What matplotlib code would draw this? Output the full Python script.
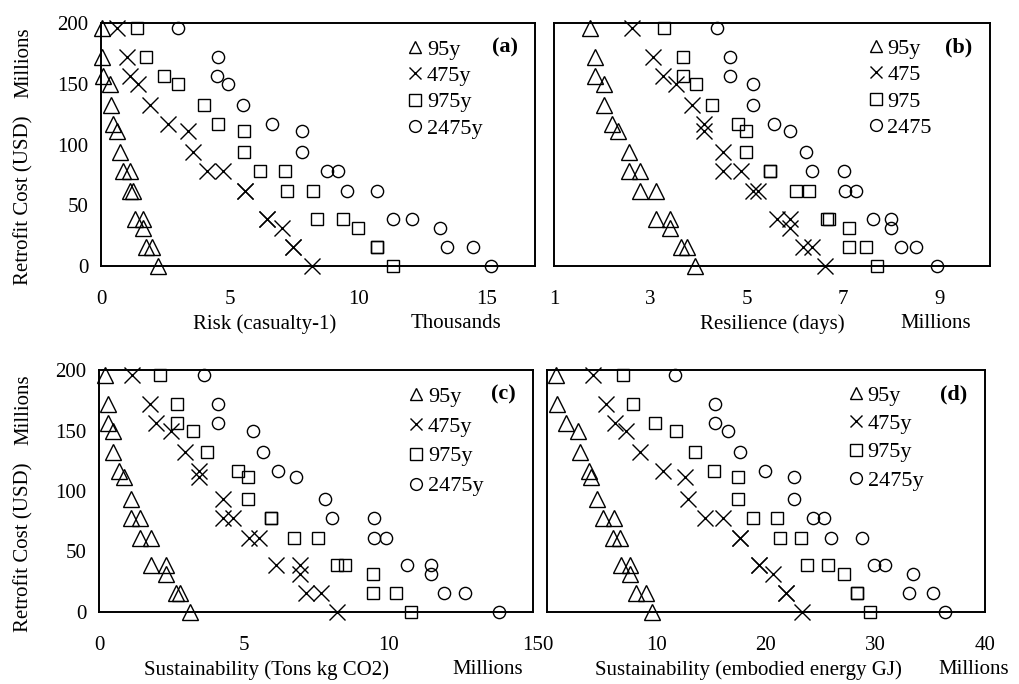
import matplotlib.pyplot as plt
from matplotlib.lines import Line2D

# ================= data =================
# retrofit cost levels (millions USD), shared by every series
COST = [195.5, 172, 156.5, 150, 132.5, 116.5, 111.5, 93.5, 78, 78,
        61.5, 61.5, 38.5, 38.5, 31, 16, 16, 0]

# (a) risk, thousands
RISK_95 = [0.03, 0.03, 0.09, 0.35, 0.38, 0.48, 0.61, 0.74, 0.87, 1.13, 1.13, 1.26, 1.32, 1.62, 1.62, 1.75, 1.97, 2.23]
RISK_475 = [0.61, 1.00, 1.13, 1.45, 1.91, 2.62, 3.40, 3.59, 4.11, 4.75, 5.60, 5.60, 6.44, 6.44, 7.03, 7.48, 7.48, 8.20]
RISK_975 = [1.39, 1.75, 2.45, 3.01, 4.01, 4.56, 5.56, 5.56, 6.18, 7.15, 7.24, 8.23, 8.39, 9.42, 10.01, 10.72, 10.72, 11.37]
RISK_2475 = [3.01, 4.54, 4.50, 4.95, 5.51, 6.64, 7.81, 7.81, 8.78, 9.23, 9.56, 10.75, 11.37, 12.08, 13.19, 13.45, 14.48, 15.16]

# (b) resilience, millions
RES_95 = [1.75, 1.85, 1.85, 2.04, 2.04, 2.21, 2.33, 2.56, 2.56, 2.78, 2.78, 3.12, 3.12, 3.41, 3.41, 3.63, 3.77, 3.93]
RES_475 = [2.61, 3.06, 3.27, 3.53, 3.86, 4.11, 4.11, 4.50, 4.50, 4.88, 5.13, 5.23, 5.62, 5.90, 5.90, 6.17, 6.35, 6.62]
RES_975 = [3.28, 3.67, 3.67, 3.95, 4.28, 4.82, 4.98, 4.98, 5.48, 5.48, 6.02, 6.30, 6.66, 6.71, 7.13, 7.13, 7.47, 7.70]
RES_2475 = [4.38, 4.65, 4.65, 5.13, 5.13, 5.56, 5.90, 6.23, 6.35, 7.02, 7.04, 7.27, 7.62, 7.99, 7.99, 8.21, 8.52, 8.94]

# (c) sustainability CO2, millions
CO2_95 = [0.20, 0.31, 0.31, 0.48, 0.48, 0.69, 0.86, 1.12, 1.12, 1.41, 1.41, 1.81, 1.81, 2.31, 2.31, 2.65, 2.81, 3.14]
CO2_475 = [1.14, 1.75, 1.98, 2.50, 2.96, 3.46, 3.46, 4.27, 4.27, 4.63, 5.18, 5.53, 6.13, 6.94, 6.94, 7.17, 7.69, 8.21]
CO2_975 = [2.10, 2.70, 2.70, 3.25, 3.73, 4.80, 5.16, 5.16, 5.94, 5.94, 6.73, 7.57, 8.21, 8.49, 9.47, 9.47, 10.26, 10.80]
CO2_2475 = [3.63, 4.11, 4.11, 5.32, 5.67, 6.19, 6.82, 7.80, 8.07, 9.50, 9.50, 9.93, 10.63, 11.46, 11.46, 11.91, 12.66, 13.83]

# (d) sustainability embodied energy, millions
EE_95 = [0.80, 0.95, 1.71, 2.83, 2.99, 3.84, 3.99, 4.60, 5.12, 6.12, 6.03, 6.70, 6.78, 7.62, 7.62, 8.17, 9.02, 9.63]
EE_475 = [4.20, 5.43, 6.19, 7.26, 8.47, 10.61, 12.59, 12.90, 14.41, 16.08, 17.61, 17.61, 19.37, 19.37, 20.65, 21.82, 21.82, 23.25]
EE_975 = [6.95, 7.81, 9.84, 11.74, 13.50, 15.24, 17.46, 17.46, 18.83, 21.02, 21.27, 23.16, 23.71, 25.69, 27.12, 28.28, 28.28, 29.50]
EE_2475 = [11.67, 15.33, 15.33, 16.54, 17.61, 19.90, 22.55, 22.55, 24.31, 25.29, 25.93, 28.74, 29.86, 30.86, 33.40, 33.09, 35.28, 36.38]

LABELS_Y = ['95y', '475y', '975y', '2475y']
LABELS_NO_Y = ['95y', '475', '975', '2475']
Y_TICKS = [0, 50, 100, 150, 200]
# ========================================

W, H = 1020, 684
FONT = 'Liberation Serif'
plt.rcParams['font.family'] = [FONT, 'DejaVu Serif']

# marker style per return period: (marker, size pt)
STYLES = [('^', 11.5), ('x', 11.5), ('s', 9), ('o', 8.8)]
LEG_SIZES = [9, 9, 8.5, 8.5]


def px(x, y):
    # pixel position -> figure fraction
    return x / W, 1 - y / H


def make_ax(fig, left, top, right, bottom):
    l, t = px(left, top)
    r, b = px(right, bottom)
    return fig.add_axes([l, b, r - l, t - b])


def draw_panel(ax, series, xlim, xticks, labels, tag, show_y, leg_x, leg_y, row_space):
    for xs, (mk, ms) in zip(series, STYLES):
        ax.plot(xs, COST, ls='none', marker=mk, ms=ms, mfc='none', mec='black',
                mew=1.0, clip_on=False, zorder=5)
    ax.set_xlim(*xlim)
    ax.set_ylim(0, 200)
    ax.set_xticks(xticks)
    ax.set_yticks(Y_TICKS)
    ax.tick_params(length=0, labelsize=15, pad=17)
    ax.tick_params(axis='y', pad=9)
    if not show_y:
        ax.set_yticklabels([])
    for sp in ax.spines.values():
        sp.set_linewidth(1.4)
        sp.set_color('black')

    handles = [Line2D([], [], ls='none', marker=mk, ms=s, mfc='none', mec='black', mew=1.0)
               for (mk, _), s in zip(STYLES, LEG_SIZES)]
    ax.legend(handles, labels, loc='upper left', bbox_to_anchor=(leg_x, leg_y),
              frameon=False, fontsize=16, handlelength=0.6, handletextpad=0.22,
              labelspacing=row_space, borderpad=0.3)
    ax.text(0.96, 0.9, tag, transform=ax.transAxes, ha='right', va='center',
            fontsize=16, fontweight='bold')


fig = plt.figure(figsize=(W / 100, H / 100), dpi=100)

ax_a = make_ax(fig, 101, 23, 535, 266)
ax_b = make_ax(fig, 554, 23, 990, 266)
ax_c = make_ax(fig, 99, 370, 533, 612)
ax_d = make_ax(fig, 547, 370, 985, 612)

draw_panel(ax_a, [RISK_95, RISK_475, RISK_975, RISK_2475], (0, 16.88), [0, 5, 10, 15],
           LABELS_Y, '(a)', True, 0.668, 1.007, 0.26)
draw_panel(ax_b, [RES_95, RES_475, RES_975, RES_2475], (1, 10.05), [1, 3, 5, 7, 9],
           LABELS_NO_Y, '(b)', False, 0.682, 1.01, 0.26)
draw_panel(ax_c, [CO2_95, CO2_475, CO2_975, CO2_2475], (0, 15), [0, 5, 10, 15],
           LABELS_Y, '(c)', True, 0.675, 1.007, 0.42)
draw_panel(ax_d, [EE_95, EE_475, EE_975, EE_2475], (0, 40), [0, 10, 20, 30, 40],
           LABELS_Y, '(d)', False, 0.65, 1.011, 0.35)

# axis titles and display-unit labels
def label(x, y, s, rot=0):
    fig.text(*px(x, y), s, ha='center', va='center', fontsize=15, rotation=rot)

label(265, 324, 'Risk (casualty-1)')
label(456, 324, 'Thousands')
label(772, 324, 'Resilience (days)')
label(936, 324, 'Millions')
label(267, 670, 'Sustainability (Tons kg CO2)')
label(488, 670, 'Millions')
label(748, 670, 'Sustainability (embodied energy GJ)')
label(974, 670, 'Millions')

for top in (23, 370):
    label(24, top + 177, 'Retrofit Cost (USD)', 90)
    label(24, top + 40, 'Millions', 90)

fig.savefig('out.png', dpi=100)
